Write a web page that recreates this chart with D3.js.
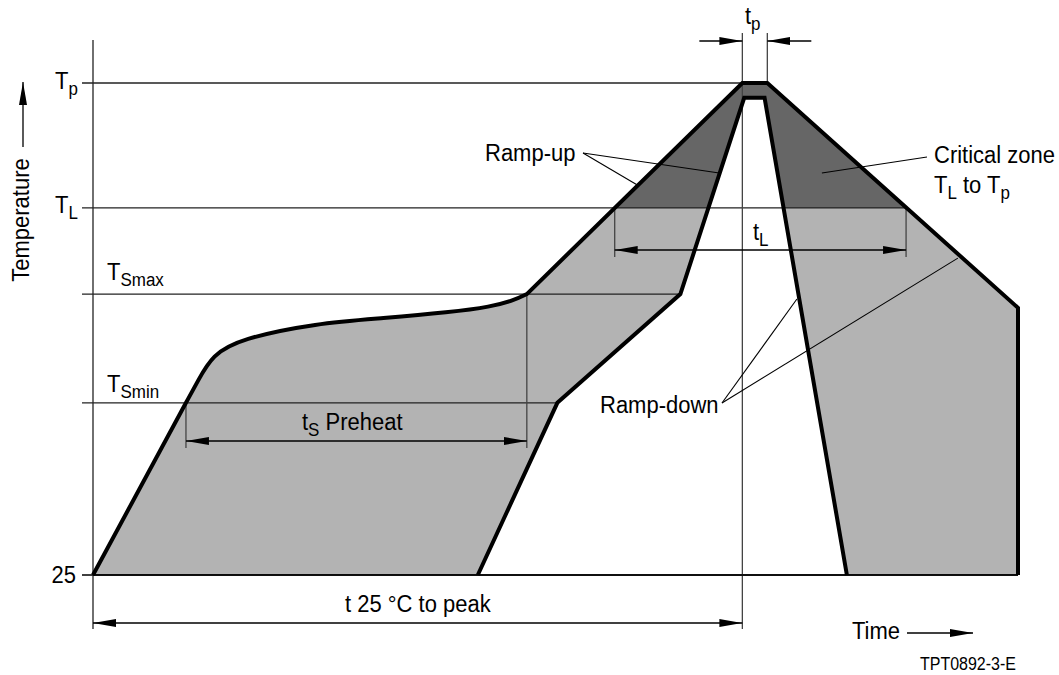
<!DOCTYPE html>
<html>
<head>
<meta charset="utf-8">
<script src="https://cdn.jsdelivr.net/npm/d3@7"></script>
<style>
  body { margin: 0; background: #fff; }
  svg { display: block; font-family: "Liberation Sans", Arial, Helvetica, sans-serif; }
  .thin { stroke: #222; stroke-width: 1.3; fill: none; }
  .leader { stroke: #000; stroke-width: 1.1; fill: none; }
  .thick { stroke: #000; stroke-width: 4; fill: none; stroke-linejoin: miter; }
  .lbl { font-size: 22px; fill: #000; }
</style>
</head>
<body>
<svg id="chart" width="1059" height="675"></svg>
<script>
// schematic units: time 0..100, temperature 0 (= 25 °C) .. 100 (= Tp)
var levelNames = [['25'], ['T', 'Smin'], ['T', 'Smax'], ['T', 'L'], ['T', 'p']];
var levelTemps = [0, 35, 57.1, 74.6, 100];
// how far to the right each level line runs (time units)
var levelEnds = [100, 50.2, 63.5, 87.9, 70.2];

// slowest profile (outer edge of the band)
var rampOuter = [[0, 0], [10.05, 35]];
// control points of the soak curve between TSmin and TSmax
var preheatCurve = [[10.05, 35], [11.35, 39.5], [12.9, 44.7], [15.9, 48.0], [24.2, 51.2],
  [31.4, 52.2], [38.6, 53.4], [43.0, 54.5], [45.6, 55.9], [46.9, 57.1]];
var peakOuter = [[46.9, 57.1], [70.2, 100], [72.9, 100], [100, 54.3], [100, 0]];
// fastest profile (inner edge of the band)
var profileInner = [[41.6, 0], [50.2, 35], [63.5, 57.1], [70.4, 97], [72.6, 97], [81.5, 0]];

// dimension spans (time units)
var spanPreheat = [10.05, 46.9];
var spanLiquidus = [56.4, 87.9];
var spanToPeak = [0, 70.2];
var spanPeak = [70.2, 72.9];

var svg = d3.select('#chart');
var x = d3.scaleLinear().domain([0, 100]).range([93, 1018]);
var y = d3.scaleLinear().domain([0, 100]).range([575, 83]);
var TICK = 11;
var STRETCH = 1.12; // lettering in the drawing is a little taller than Arial

var defs = svg.append('defs');
defs.append('marker')
  .attr('id', 'head')
  .attr('viewBox', '0 0 23 8')
  .attr('refX', 23).attr('refY', 4)
  .attr('markerWidth', 23).attr('markerHeight', 8)
  .attr('markerUnits', 'userSpaceOnUse')
  .attr('orient', 'auto-start-reverse')
  .append('path').attr('d', 'M0,0L23,4L0,8Z').attr('fill', '#000');
defs.append('clipPath').attr('id', 'critical')
  .append('rect').attr('x', 0).attr('y', 0)
  .attr('width', 1059).attr('height', y(levelTemps[3]));

var lin = d3.line().x(function (d) { return x(d[0]); }).y(function (d) { return y(d[1]); });
var smooth = d3.line().x(function (d) { return x(d[0]); }).y(function (d) { return y(d[1]); })
  .curve(d3.curveBasis);

var outerD = lin(rampOuter) +
  smooth(preheatCurve).replace(/^M/, 'L') +
  lin(peakOuter).replace(/^M/, 'L');
var innerD = lin(profileInner);

// band fills
svg.append('path').attr('d', outerD + 'Z').attr('fill', '#b3b3b3');
svg.append('path').attr('d', outerD + 'Z').attr('fill', '#666').attr('clip-path', 'url(#critical)');
svg.append('path').attr('d', innerD + 'Z').attr('fill', '#fff');

// level lines with ticks
levelTemps.forEach(function (t, i) {
  svg.append('line').attr('class', 'thin')
    .attr('x1', x(0) - TICK).attr('x2', x(levelEnds[i]))
    .attr('y1', y(t)).attr('y2', y(t))
    .style('stroke', i === 0 ? '#000' : null);
});

// temperature axis
svg.append('line').attr('class', 'thin')
  .attr('x1', x(0)).attr('x2', x(0)).attr('y1', 40).attr('y2', 629);

// dimension guide lines
function vline(t, y1, y2) {
  svg.append('line').attr('class', 'thin').style('stroke', '#444')
    .attr('x1', x(t)).attr('x2', x(t)).attr('y1', y1).attr('y2', y2);
}
vline(spanPeak[0], 33, 629);
vline(spanPeak[1], 33, y(100));
vline(spanPreheat[0], y(levelTemps[1]), 448);
vline(spanPreheat[1], y(levelTemps[2]), 448);
vline(spanLiquidus[0], y(levelTemps[3]), 257);
vline(spanLiquidus[1], y(levelTemps[3]), 257);

function arrow(x1, y1, x2, y2, both) {
  var l = svg.append('line').attr('class', 'thin').style('stroke', '#000')
    .attr('x1', x1).attr('y1', y1).attr('x2', x2).attr('y2', y2)
    .attr('marker-end', 'url(#head)');
  if (both) l.attr('marker-start', 'url(#head)');
}
arrow(x(spanPreheat[0]), 441, x(spanPreheat[1]), 441, true);
arrow(x(spanLiquidus[0]), 250, x(spanLiquidus[1]), 250, true);
arrow(x(spanToPeak[0]), 623, x(spanToPeak[1]), 623, true);
arrow(x(spanPeak[0]) - 43, 41, x(spanPeak[0]), 41, false);
arrow(x(spanPeak[1]) + 44, 41, x(spanPeak[1]), 41, false);
arrow(907, 633, 973, 633, false);
arrow(23, 147, 23, 82, false);

// profile outlines
svg.append('line').attr('class', 'thin').style('stroke', '#000')
  .attr('x1', x(0)).attr('x2', x(100)).attr('y1', y(0)).attr('y2', y(0));
svg.append('path').attr('class', 'thick').attr('d', outerD);
svg.append('path').attr('class', 'thick').attr('d', innerD);

// leaders
function leader(x1, y1, pt) {
  svg.append('line').attr('class', 'leader')
    .attr('x1', x1).attr('y1', y1).attr('x2', x(pt[0])).attr('y2', y(pt[1]));
}
leader(583, 153, [58.8, 79.3]);
leader(583, 153, [67.7, 81.7]);
leader(927, 157, [78.8, 81.7]);
leader(722, 403, [76.1, 56.1]);
leader(722, 403, [93.5, 64.4]);

// labels: parts alternate normal / subscript
function label(px, py, parts, size) {
  var t = svg.append('text').attr('class', 'lbl')
    .attr('transform', 'translate(' + px + ',' + py + ') scale(1,' + STRETCH + ')');
  if (size) t.style('font-size', size + 'px');
  var sub = false;
  parts.forEach(function (p, i) {
    t.append('tspan')
      .attr('dy', sub ? 5 : (i === 0 ? 0 : -5))
      .style('font-size', sub ? '17px' : null)
      .text(p);
    sub = !sub;
  });
  return t;
}

label(55, 89, levelNames[4]);
label(55, 213, levelNames[3]);
label(107, 280, levelNames[2]);
label(107, 392, levelNames[1]);
label(76, 583, levelNames[0]).attr('text-anchor', 'end');

label(745, 24, ['t', 'p']);
label(753, 240, ['t', 'L']);
label(302, 430, ['t', 'S', ' Preheat']);
label(345, 612, ['t 25 \u00b0C to peak']);
label(485, 161, ['Ramp-up']);
label(934, 163, ['Critical zone']);
label(934, 193, ['T', 'L', ' to T', 'p']);
label(600, 413, ['Ramp-down']);
label(852, 639, ['Time']);
label(920, 670, ['TPT0892-3-E'], 16);

svg.append('text').attr('class', 'lbl')
  .attr('transform', 'translate(29,220) rotate(-90) scale(1,' + STRETCH + ')')
  .attr('text-anchor', 'middle')
  .text('Temperature');
</script>
</body>
</html>
